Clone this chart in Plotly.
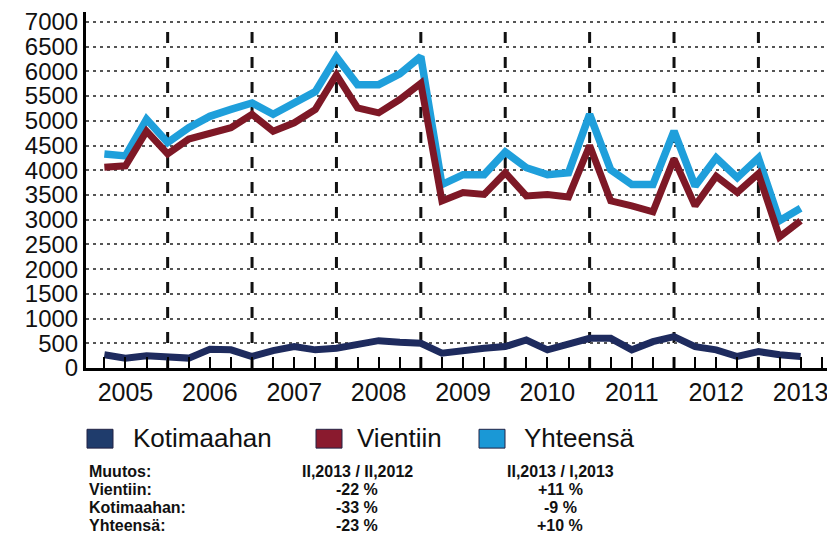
import plotly.graph_objects as go

# ---- data (quarterly, 2005 Q1 .. 2013 Q2) ----
years = [2005, 2006, 2007, 2008, 2009, 2010, 2011, 2012, 2013]
vientiin = [4060, 4090, 4790, 4330, 4630, 4730, 4860, 5130, 4790, 4960, 5230, 5930,
            5260, 5160, 5430, 5760, 3380, 3550, 3510, 3950, 3480, 3510, 3460, 4500,
            3380, 3280, 3160, 4230, 3280, 3880, 3550, 3930, 2650, 2980]
yhteensa = [4330, 4290, 5030, 4560, 4860, 5090, 5230, 5360, 5130, 5360, 5590, 6290,
            5730, 5730, 5950, 6300, 3710, 3910, 3910, 4370, 4050, 3910, 3950, 5130,
            4010, 3710, 3710, 4790, 3680, 4250, 3850, 4250, 2980, 3230]
kotimaahan = [267, 200, 247, 220, 200, 380, 367, 233, 353, 433, 367, 400,
              467, 553, 520, 500, 300, 367, 400, 433, 567, 367, 500, 600,
              600, 367, 533, 633, 433, 367, 233, 333, 267, 233]
y_ticks = list(range(0, 7001, 500))
series_names = ["Kotimaahan", "Vientiin", "Yhteensä"]
series_colors = ["#1e2b5e", "#7e1826", "#1f9fdb"]
legend_colors = ["#1f3c6c", "#8a1a2e", "#1a98d6"]

table_header = ["Muutos:", "II,2013 / II,2012", "II,2013 / I,2013"]
table_rows = [["Vientiin:", "-22 %", "+11 %"],
              ["Kotimaahan:", "-33 %", "-9 %"],
              ["Yhteensä:", "-23 %", "+10 %"]]

n = len(vientiin)
x = list(range(n))
year_pos = [4 * k + 1 for k in range(len(years))]          # Q2 of each year
year_end = [4 * k + 3 for k in range(len(years)) if 4 * k + 3 < n]  # Q4 boundaries

FONT = "Liberation Sans, Arial, sans-serif"
GRID_COLOR, GRID_W, GRID_DASH = "#555555", 2, "3px,4px"

fig = go.Figure()
for vals, name, col, w in [(kotimaahan, series_names[0], series_colors[0], 7),
                           (yhteensa, series_names[2], series_colors[2], 7.5),
                           (vientiin, series_names[1], series_colors[1], 7)]:
    fig.add_trace(go.Scatter(x=x, y=vals, mode="lines", name=name,
                             line=dict(color=col, width=w), showlegend=False,
                             hoverinfo="skip"))

shapes = []
for xe in year_end:
    shapes.append(dict(type="line", xref="x", yref="y", x0=xe, x1=xe, y0=0, y1=6860,
                       line=dict(color="#111111", width=3, dash="11px,14px"),
                       layer="below"))
# top gridline (drawn explicitly as well)
shapes.append(dict(type="line", xref="paper", yref="y", x0=0, x1=1,
                   y0=y_ticks[-1], y1=y_ticks[-1],
                   line=dict(color=GRID_COLOR, width=GRID_W, dash=GRID_DASH),
                   layer="above"))

# custom legend / table placed in page pixel terms relative to the plot area
PW, PH, PL, PT = 749.0, 360.0, 86.0, 8.0
def px(v):
    return (v - PL) / PW
def py(v):
    return (PT + PH - v) / PH

leg_sq = [(87, 113), (316, 342), (479, 505)]
leg_tx = [131, 355, 522]
annotations = []
for (a, b), tx, name, col in zip(leg_sq, leg_tx, series_names, legend_colors):
    shapes.append(dict(type="rect", xref="paper", yref="paper",
                       x0=px(a), x1=px(b), y0=py(430), y1=py(449),
                       fillcolor=col, line=dict(color="#222244", width=1)))
    annotations.append(dict(xref="paper", yref="paper", x=px(tx), y=py(439),
                            xanchor="left", yanchor="middle", showarrow=False,
                            text=name, font=dict(family=FONT, size=26, color="#111111")))

row_y = [473, 491, 509, 527]
rows = [table_header] + table_rows
tfont = dict(family=FONT, size=16, color="#111111", weight="bold")
for ry, row in zip(row_y, rows):
    annotations.append(dict(xref="paper", yref="paper", x=px(87), y=py(ry),
                            xanchor="left", yanchor="middle", showarrow=False,
                            text=row[0], font=tfont))
    annotations.append(dict(xref="paper", yref="paper", x=px(357), y=py(ry),
                            xanchor="center", yanchor="middle", showarrow=False,
                            text=row[1], font=tfont))
    annotations.append(dict(xref="paper", yref="paper", x=px(560), y=py(ry),
                            xanchor="center", yanchor="middle", showarrow=False,
                            text=row[2], font=tfont))

# page body has an 8px default margin, so the figure is 8px smaller and margins shifted
fig.update_layout(
    width=827, height=539,
    margin=dict(l=78, r=0, t=0, b=179),
    paper_bgcolor="white", plot_bgcolor="white",
    showlegend=False,
    shapes=shapes, annotations=annotations,
    xaxis=dict(range=[-0.87, 34.63], tickvals=year_pos, ticktext=[str(y) for y in years],
               showline=True, linecolor="black", linewidth=3,
               ticks="inside", ticklen=11, tickwidth=2, tickcolor="black",
               minor=dict(dtick=1, tick0=0, ticks="inside", ticklen=11, tickwidth=2,
                          tickcolor="black", showgrid=False),
               showgrid=False, zeroline=False, ticklabeloverflow="allow",
               tickfont=dict(family=FONT, size=25, color="#111111")),
    yaxis=dict(range=[0, 7200], tickvals=y_ticks, ticktext=[str(v) for v in y_ticks],
               showline=True, linecolor="black", linewidth=3, ticks="",
               showgrid=True, gridcolor=GRID_COLOR, gridwidth=GRID_W, griddash=GRID_DASH,
               zeroline=False, ticklabeloverflow="allow",
               tickfont=dict(family=FONT, size=24, color="#111111")),
)

fig.write_html("out.html")
